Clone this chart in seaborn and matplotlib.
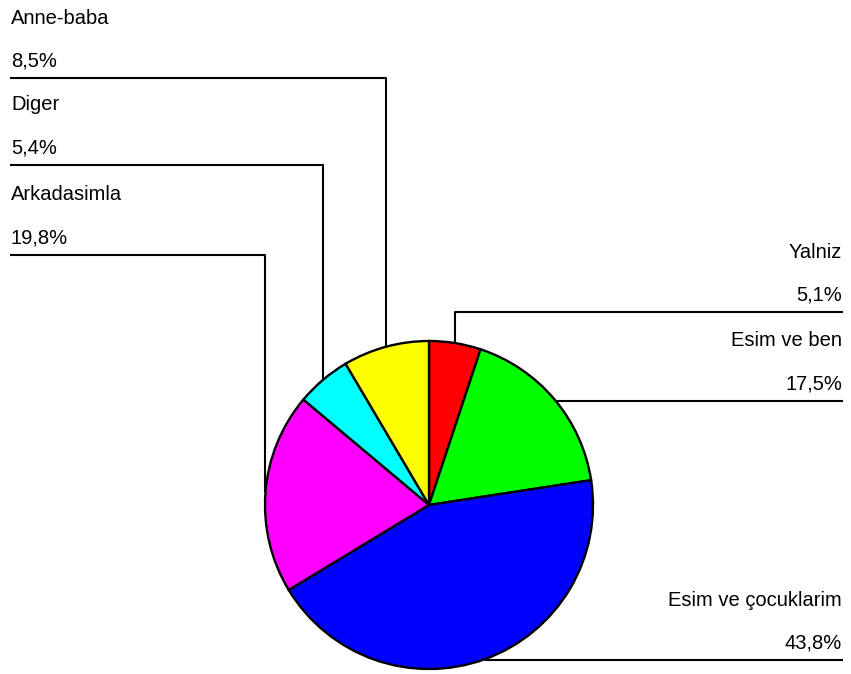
import numpy as np
import matplotlib
matplotlib.use("Agg")
import matplotlib.pyplot as plt
import seaborn as sns

# Household composition shares (%)
categories = ["Yalniz", "Esim ve ben", "Esim ve çocuklarim", "Arkadasimla", "Diger", "Anne-baba"]
shares = [5.1, 17.5, 43.8, 19.8, 5.4, 8.5]
value_labels = ["5,1%", "17,5%", "43,8%", "19,8%", "5,4%", "8,5%"]
colors = ["#FF0000", "#00FF00", "#0000FF", "#FF00FF", "#00FFFF", "#FFFF00"]

sns.set_theme(style="white")
plt.rcParams["font.family"] = ["Liberation Sans", "DejaVu Sans"]

W, H = 851, 674
fig = plt.figure(figsize=(W / 100, H / 100), dpi=100)
ax = fig.add_axes([0, 0, 1, 1])


def py(y):
    """Convert a top-down pixel row into data y."""
    return H - y


cx, cy, r = 429, py(505), 164
wedges, _ = ax.pie(shares, colors=colors, startangle=90, counterclock=False,
                   center=(cx, cy), radius=r,
                   wedgeprops=dict(edgecolor="black", linewidth=1.7))

ax.set_xlim(0, W)
ax.set_ylim(0, H)
ax.set_aspect("equal")
ax.axis("off")

# Label layout: (row of the leader rule, side)
layout = {
    "Yalniz": (312, "right"),
    "Esim ve ben": (401, "right"),
    "Esim ve çocuklarim": (660, "right"),
    "Arkadasimla": (255, "left"),
    "Diger": (165, "left"),
    "Anne-baba": (78, "left"),
}
left_x, right_x = 10, 843

for w, name, vlab in zip(wedges, categories, value_labels):
    mid = np.deg2rad((w.theta1 + w.theta2) / 2)
    ex, ey = cx + r * np.cos(mid), cy + r * np.sin(mid)
    rule_y, side = layout[name]
    end_x = left_x if side == "left" else right_x
    ry = py(rule_y)
    if abs(ey - ry) < 4:
        xs, ys = [ex, end_x], [ry, ry]
    else:
        xs, ys = [ex, ex, end_x], [ey, ry, ry]
    ax.plot(xs, ys, color="black", lw=1.5, solid_capstyle="butt", zorder=0)
    tx = left_x + 1 if side == "left" else right_x - 1
    ha = "left" if side == "left" else "right"
    ax.text(tx, py(rule_y - 60), name, ha=ha, va="center", fontsize=14.5, color="black")
    ax.text(tx, py(rule_y - 17), vlab, ha=ha, va="center", fontsize=14.5, color="black")

fig.savefig("out.png", dpi=100, facecolor="white")
